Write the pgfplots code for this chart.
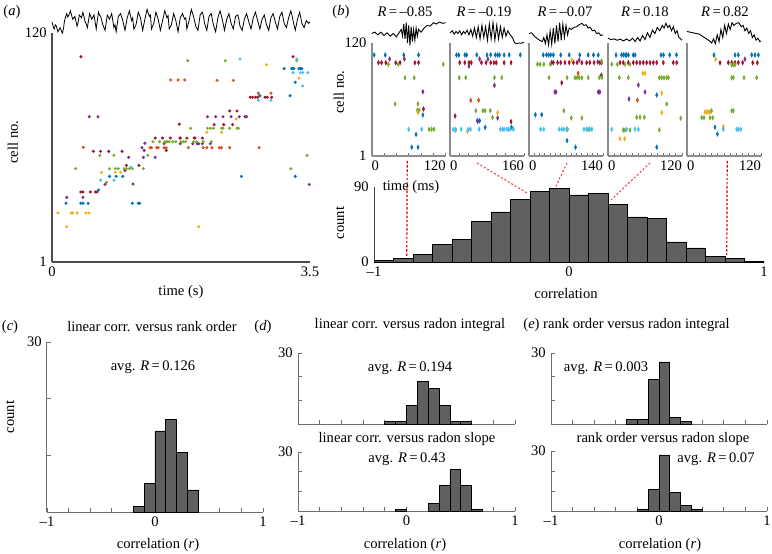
\documentclass[border=0pt]{standalone}
\usepackage{pgfplots}
\pgfplotsset{compat=1.18}
\usepackage{fontspec}
\setmainfont{Liberation Serif}

\definecolor{cB}{RGB}{0,114,189}
\definecolor{cO}{RGB}{217,83,25}
\definecolor{cY}{RGB}{237,177,32}
\definecolor{cP}{RGB}{126,47,142}
\definecolor{cG}{RGB}{119,172,48}
\definecolor{cL}{RGB}{77,190,238}
\definecolor{cR}{RGB}{162,20,47}
\definecolor{barg}{RGB}{96,96,96}
\definecolor{axg}{RGB}{110,110,110}
\definecolor{dotred}{RGB}{230,60,60}

% picture is laid out in reference pixels: 1 px = 0.5pt
\newcommand{\pxy}[2]{(#1*0.5pt,276.5pt-#2*0.5pt)}
\newcommand{\fs}{\fontsize{7.3}{8.8}\selectfont}
\newcommand{\lft}[1]{\makebox[0pt][l]{#1}}
\newcommand{\rgt}[1]{\makebox[0pt][r]{#1}}

\pgfplotsset{
  every axis/.append style={scale only axis, anchor=south west,
    font=\fs, /pgf/number format/assume math mode=true},
  dotsA/.style={only marks, mark=*, mark size=0.55pt, draw=none},
  dotsB/.style={only marks, mark=*, mark size=0.9pt,
    mark options={xscale=0.55, yscale=1.1, draw=none}},
  rast/.style={ymin=1, ymax=120, width=37pt, height=56.5pt,
    axis x line*=bottom, axis y line*=left, clip=false,
    axis line style={-, line width=1pt, axg!80},
    ytick=\empty, tick align=inside, major tick length=1.5pt,
    xtick style={axg, line width=0.4pt}},
  trace/.style={hide axis, ymin=-1, ymax=1, clip=false, width=37pt, height=13.5pt},
  hist/.style={xmin=-1, xmax=1, ymin=0, ymax=30,
    axis x line*=bottom, axis y line*=left,
    axis line style={-, axg, line width=0.5pt},
    tick align=inside, major tick length=2pt, tick style={axg, line width=0.4pt},
    xtick={-1,-0.8,-0.6,-0.4,-0.2,0,0.2,0.4,0.6,0.8,1},
    xticklabels={–1,,,,,0,,,,,1},
    ytick={0,10,20,30}, yticklabels={,,,30}},
  hbar/.style={ybar, bar width=0.1, bar shift=0pt, fill=barg, draw=black, line width=0.4pt},
}

\begin{document}
\fs
\begin{tikzpicture}
\useasboundingbox (0,0) rectangle (386pt,276.5pt);

% ---------------- (a) ----------------
\begin{axis}[at={(26pt,145.5pt)}, width=129pt, height=114.5pt,
  xmin=0, xmax=3.5, ymin=1, ymax=120,
  axis x line*=bottom, axis y line*=left,
  axis line style={-, line width=1pt, black!70},
  xtick={0,3.5}, xticklabels={0,3.5}, ytick={1,120}, major tick length=0pt,
  clip=false]
\addplot[dotsA, cB] coordinates {(0.78,45.5) (0.87,45.5) (0.96,45.5) (0.63,38.4)
  (0.19,31.5) (0.39,31.5) (0.42,31.5) (0.49,31.5) (1.09,31.5) (1.17,31.5) (1.19,31.5)
  (3.15,101.5) (3.25,101.5) (3.27,101.5) (3.28,101.5) (3.35,101.5) (3.37,101.5) (3.39,101.5)
  (3.30,94.4) (3.23,87.4) (2.82,87.4) (2.57,45.5) (3.30,45.5)};
\addplot[dotsA, cO] coordinates {(1.61,95.6) (1.71,95.6) (1.80,95.6) (2.24,95.4) (2.46,95.4)
  (0.425,60.6) (1.33,60.4) (1.35,60.4) (1.42,60.4) (1.44,60.4) (1.52,60.4) (1.55,60.4)
  (1.85,60.4) (2.05,60.4) (2.10,60.4) (2.17,60.4) (2.27,60.4) (2.30,60.4) (2.41,60.4)
  (2.81,60.4) (2.80,88.7) (2.97,88.7)};
\addplot[dotsA, cY] coordinates {(0.67,47.6) (0.86,47.6) (0.93,47.6) (0.08,26.5) (0.26,26.5)
  (0.28,26.5) (0.34,26.5) (0.46,26.5) (0.50,26.5) (0.20,19.3) (2.91,103.5) (3.35,96.5)
  (2.50,75.3) (2.10,68.4) (2.30,68.4) (1.99,19.3)};
\addplot[dotsA, cP] coordinates {(0.506,76.5) (0.624,76.5) (1.04,55.4) (0.99,48.5) (0.72,41.3)
  (1.10,41.5) (0.20,34.6) (0.42,34.6) (1.22,60.4) (1.26,62.7) (1.24,55.4) (1.40,55.4)
  (2.11,76.5) (2.22,76.5) (2.32,76.5) (2.43,76.5) (2.54,76.5) (2.62,76.5) (2.64,76.5)
  (1.74,62.5) (1.91,62.5) (1.97,62.5) (1.99,62.5) (2.04,62.5) (2.15,62.5) (1.52,62.5)
  (3.49,41.3)};
\addplot[dotsA, cG] coordinates {(0.65,56.4) (0.84,56.4) (0.32,49.5) (0.78,49.5) (0.86,49.5)
  (0.90,49.5) (0.98,49.5) (1.01,49.5) (1.05,49.5) (1.09,49.5) (1.24,49.5) (0.74,42.4)
  (1.37,63.5) (1.46,63.5) (1.53,63.5) (1.55,63.5) (1.57,63.5) (1.59,63.5) (1.64,63.5)
  (1.68,63.5) (1.75,63.5) (1.78,63.5) (1.81,63.5) (1.92,63.5) (1.96,63.5) (2.05,63.5)
  (2.16,63.5) (1.30,56.4) (1.84,105.6) (2.35,105.6) (3.32,105.6) (1.88,70.5) (2.11,70.5)
  (2.15,70.5) (2.19,70.5) (2.30,70.5) (2.32,70.5) (2.41,70.5) (2.51,70.5) (2.53,70.5)
  (3.46,56.4) (3.24,49.5)};
\addplot[dotsA, cL] coordinates {(1.07,50.3) (0.66,43.5) (0.84,43.5) (2.55,106.5) (3.32,106.5)
  (3.27,99.4) (3.37,99.4) (3.40,99.4) (3.47,99.4) (3.40,92.5) (2.80,85) (2.97,85)};
\addplot[dotsA, cR] coordinates {(0.393,107.7) (1.727,72.6) (1.605,65.4) (1.736,65.4)
  (0.56,58.5) (0.66,58.5) (0.77,58.5) (0.95,58.5) (1.01,51.2) (1.18,51.2) (0.39,37.4)
  (0.42,37.4) (0.52,37.4) (0.59,37.4) (0.61,37.4) (1.25,59) (1.55,59) (3.27,107.7)
  (2.69,86.6) (2.72,86.6) (2.76,86.6) (2.79,86.6) (2.89,86.6) (2.92,86.6) (2.98,86.6)
  (2.41,79.5) (2.51,79.5) (2.20,72.4) (2.33,72.4) (2.45,72.4) (1.74,65.4) (1.83,65.4)
  (1.93,65.4) (1.94,65.4) (2.04,65.4) (1.40,65.4) (1.50,65.4)};
\end{axis}

\begin{axis}[trace, at={(26pt,258.5pt)}, width=129pt, height=14pt, xmin=0, xmax=3.5]
\addplot[black, line width=0.4pt] coordinates {(0.00,0.0) (0.015,-0.3) (0.03,-0.5) (0.045,-0.2) (0.06,-0.3) (0.08,-0.7)
  (0.11,-0.4) (0.14,-0.8) (0.155,-0.5) (0.17,0.1) (0.20,0.6) (0.215,0.35) (0.23,0.5) (0.25,0.8) (0.28,0.2) (0.31,0.4)
  (0.34,-0.3) (0.355,0.0) (0.37,0.5) (0.40,0.3) (0.42,0.7) (0.45,0.0) (0.465,-0.15) (0.48,-0.4) (0.51,0.6) (0.54,0.2)
  (0.57,0.5) (0.60,-0.5) (0.63,0.7) (0.645,0.5) (0.66,0.4) (0.69,-0.2) (0.72,-0.6) (0.75,0.5) (0.78,0.2)
  (0.81,0.6) (0.84,-0.4) (0.855,-0.2) (0.87,-0.7) (0.90,0.4) (0.93,0.6) (0.96,0.1) (0.99,-0.6) (1.02,0.3)
  (1.05,0.8) (1.08,0.1) (1.095,0.3) (1.11,-0.5) (1.14,-0.2) (1.17,0.7) (1.20,0.3) (1.23,-0.6) (1.26,0.2)
  (1.29,0.9) (1.32,0.4) (1.335,0.5) (1.35,-0.5) (1.38,-0.1) (1.41,0.7) (1.44,0.2) (1.47,-0.6) (1.50,0.1)
  (1.53,0.8) (1.56,0.3) (1.575,0.45) (1.59,-0.5) (1.62,-0.2) (1.65,0.6) (1.68,0.1) (1.71,-0.7) (1.74,0.3)
  (1.77,0.6) (1.80,0.2) (1.815,0.3) (1.83,-0.5) (1.86,0.1) (1.89,0.9) (1.92,0.4) (1.95,-0.3) (1.98,-0.6)
  (2.01,0.5) (2.04,0.7) (2.055,0.4) (2.07,-0.1) (2.10,-0.6) (2.13,0.4) (2.16,0.6) (2.19,-0.2) (2.22,-0.7)
  (2.25,0.3) (2.28,0.8) (2.295,0.5) (2.31,0.2) (2.34,-0.6) (2.37,0.2) (2.40,0.6) (2.43,-0.1) (2.46,-0.5)
  (2.49,0.4) (2.52,0.5) (2.535,0.2) (2.55,-0.3) (2.58,-0.6) (2.61,0.2) (2.64,0.6) (2.67,0.0) (2.70,-0.5)
  (2.73,0.3) (2.76,0.7) (2.775,0.4) (2.79,0.1) (2.82,-0.5) (2.85,0.2) (2.88,0.5) (2.91,-0.2) (2.94,-0.6)
  (2.97,0.3) (3.00,0.6) (3.015,0.3) (3.03,0.0) (3.06,-0.5) (3.09,0.4) (3.12,0.7) (3.15,-0.1) (3.18,-0.4)
  (3.21,0.3) (3.24,0.8) (3.255,0.5) (3.27,0.1) (3.30,-0.6) (3.33,0.2) (3.36,0.7) (3.39,-0.1) (3.42,-0.4)
  (3.45,0.1) (3.48,-0.1) (3.50,0.0)};
\end{axis}

% ---------------- (b) rasters ----------------
\begin{axis}[rast, at={(185.85pt,198.5pt)}, xmin=0, xmax=120,
  xtick={0,20,...,120}, xticklabels={\lft{0},,,,,,\rgt{120}}, ytick={1,120}, ytick style={draw=none}]
\addplot[dotsB, cB] coordinates {(4,107.4) (22,107.4) (52,107.4) (76,107.4) (83,44.2) (72,23.8) (65,10.2) (75,10.2)};
\addplot[dotsB, cR] coordinates {(11,99.3) (16,99.3) (23,99.3) (39,99.3) (46,99.3) (70,99.3) (76,99.3) (84,50.5)};
\addplot[dotsB, cP] coordinates {(29,103.1) (53,103.1) (83,68.7)};
\addplot[dotsB, cG] coordinates {(27,97.6) (43,97.6) (116,97.6) (54,83.5) (69,83.5) (38,55.8) (75,55.8) (74,49.2) (77,49.2) (93,29.1) (97,29.1) (101,29.1)};
\addplot[dotsB, cY] coordinates {(75,46.8)};
\addplot[dotsB, cL] coordinates {(60,29.1) (81,29.1)};
\end{axis}

\begin{axis}[rast, at={(225pt,198.5pt)}, xmin=0, xmax=160,
  xtick={0,20,...,160}, xticklabels={\lft{0},,,,,,,,\rgt{160}}]
\addplot[dotsB, cB] coordinates {(14,107.4) (19,107.4) (32,107.4) (36,107.4) (58,107.4) (80,107.4) (88,107.4) (98,107.4) (103,107.4) (107,107.4) (117,107.4) (128,107.4) (152,107.4) (59,38.2) (64,38.2) (76,31.2) (133,31.2)};
\addplot[dotsB, cR] coordinates {(21,99.3) (32,99.3) (41,99.3) (46,99.3) (68,99.3) (78,99.3) (88,99.3) (95,99.3) (100,99.3) (117,99.3) (132,99.3) (11,43.1) (132,37.1)};
\addplot[dotsB, cP] coordinates {(64,103.1) (82,103.1) (41,95.8) (96,75.4) (103,41) (60,37.5)};
\addplot[dotsB, cG] coordinates {(20,83.5) (34,83.5) (96,83.5) (112,83.5) (56,48.7) (71,48.7) (76,48.7) (87,48.7) (92,41.7) (12,28)};
\addplot[dotsB, cO] coordinates {(45,59.7) (62,59.7)};
\addplot[dotsB, cY] coordinates {(103,46.8) (38,27)};
\addplot[dotsB, cL] coordinates {(7,29.1) (12,29.1) (24,29.1) (39,29.1) (44,29.1) (63,29.1) (109,29.1) (114,29.1) (117,29.1) (123,29.1) (126,29.1) (130,29.1) (137,29.1)};
\end{axis}

\begin{axis}[rast, at={(264.5pt,198.5pt)}, xmin=0, xmax=140,
  xtick={0,10,...,140}, xticklabels={\lft{0},,,,,,,,,,,,,,\rgt{140}}]
\addplot[dotsB, cB] coordinates {(27,107.4) (33,107.4) (37,107.4) (41,107.4) (46,107.4) (60,107.4) (76,107.4) (96,107.4) (112,107.4) (122,107.4) (131,107.4) (12,44.5) (24,44.5) (72,17.1) (88,10.2)};
\addplot[dotsB, cR] coordinates {(43,99.3) (46,99.3) (54,99.3) (60,99.3) (68,99.3) (76,99.3) (84,99.3) (91,99.3) (100,99.3) (109,99.3) (115,99.3) (123,99.3) (134,99.3) (137,99.3) (62,78.2) (137,86)};
\addplot[dotsB, cG] coordinates {(16,97.6) (21,97.6) (28,97.6) (40,97.6) (137,101) (38,83.5) (72,83.5) (87,83.5) (91,83.5) (95,83.5) (100,83.5) (112,83.5) (133,83.5) (138,83.5) (66,48.7) (80,41) (100,41) (73,29) (112,29)};
\addplot[dotsB, cY] coordinates {(81,102)};
\addplot[dotsB, cP] coordinates {(95,102) (130,100) (49,68.4) (51,68.4) (131,68.4) (134,68.4)};
\addplot[dotsB, cO] coordinates {(93,88.1)};
\addplot[dotsB, cL] coordinates {(22,29.1) (28,29.1) (57,29.1) (62,29.1) (66,29.1) (71,29.1) (104,29.1) (109,29.1) (115,29.1) (119,29.1)};
\end{axis}

\begin{axis}[rast, at={(304pt,198.5pt)}, xmin=0, xmax=120,
  xtick={0,10,...,120}, xticklabels={\lft{0},,,,,,,,,,,,\rgt{120}}]
\addplot[dotsB, cB] coordinates {(13,107.4) (22,107.4) (25,107.4) (28,107.4) (30,107.4) (33,107.4) (41,107.4) (44,107.4) (86,107.4) (90,107.4) (100,107.4) (111,107.4) (79,65.2) (79,10.2)};
\addplot[dotsB, cR] coordinates {(19.5,99.3) (24.8,99.3) (32.9,99.3) (41,99.3) (46.5,99.3) (51.9,99.3) (57.3,99.3) (62.7,99.3) (68.1,99.3) (73.5,99.3) (79,99.3) (89.7,99.3) (105.9,99.3) (111.4,99.3)};
\addplot[dotsB, cG] coordinates {(6,97.6) (15.1,97.6) (27.6,97.6) (35.7,97.6) (18.4,83.5) (32.9,83.5) (83.2,83.5) (87.1,83.5) (90.8,83.5) (95.2,83.5) (97.8,83.5) (95.2,55.8) (46.5,41.7) (51.9,41.7) (58.9,41.7) (24.8,28.4) (27.6,28.4) (35.7,28.4) (83.2,28.4) (118,40.7)};
\addplot[dotsB, cY] coordinates {(56.3,88.1) (60,88.1) (87,67.4) (87.3,46.8) (19.5,19.2) (27,19.2)};
\addplot[dotsB, cP] coordinates {(49.2,75.8) (60,68.4) (34,61)};
\addplot[dotsB, cO] coordinates {(47.6,59.7)};
\addplot[dotsB, cL] coordinates {(6,29.1) (30.3,29.1) (43.8,29.1) (49.2,29.1)};
\end{axis}

\begin{axis}[rast, at={(343.5pt,198.5pt)}, xmin=0, xmax=120,
  xtick={0,10,...,120}, xticklabels={\lft{0},,,,,,,,,,,,\rgt{120}}]
\addplot[dotsB, cB] coordinates {(43.8,107.4) (77.9,107.4) (83.2,107.4) (104.9,107.4) (110.3,107.4) (115.7,107.4) (45.4,31.2) (49.2,24.2)};
\addplot[dotsB, cY] coordinates {(46.5,103) (29.2,47.3) (32,47.3) (34.5,47.3) (37.3,47.3) (58.9,32)};
\addplot[dotsB, cR] coordinates {(53.5,99.3) (67,99.3) (72.5,99.3) (77.9,99.3) (83.2,99.3) (90.3,99.3) (106.6,99.3) (114.1,99.3)};
\addplot[dotsB, cP] coordinates {(94,103)};
\addplot[dotsB, cG] coordinates {(72.5,97) (75,97) (77.9,97) (72.5,83.5) (75.1,83.5) (92.4,83.5) (113,83.5) (39.7,48.7) (72.5,48.7) (75,48.7) (23.8,41.3) (27.6,41.3) (37.3,41.3) (41.7,41.3)};
\addplot[dotsB, cL] coordinates {(58.9,29.1) (80.6,29.1) (83.2,29.1) (87.1,29.1)};
\end{axis}

% ---------------- (b) traces ----------------
\begin{axis}[trace, at={(185.85pt,253pt)}, xmin=0, xmax=120]
\addplot[black, line width=0.45pt] coordinates {(0,0.0) (5,0.1) (10,-0.1) (15,0.1) (20,-0.15) (25,0.05) (30,-0.2) (35,0.0) (40,-0.25) (45,0.1) (48,0.3) (50,-0.2) (52,0.7) (54,-0.4) (56,0.8) (58,-0.7) (60,0.6) (62,-0.9) (64,0.5) (66,-0.6) (68,0.3) (70,-0.5) (72,0.4) (74,-0.2) (76,0.3) (80,0.1) (85,0.4) (90,0.6) (95,0.55) (100,0.8) (105,0.7) (110,0.85) (115,0.75) (120,0.8)};
\end{axis}
\begin{axis}[trace, at={(225pt,253pt)}, xmin=0, xmax=160]
\addplot[black, line width=0.45pt] coordinates {(0,0.05) (5,0.2) (9,-0.05) (13,0.15) (17,0.0) (21,0.2) (25,-0.1) (29,0.15) (33,0.0) (37,0.25) (41,-0.1) (45,0.3) (49,-0.2) (53,0.4) (57,-0.3) (61,0.5) (65,-0.4) (69,0.6) (73,-0.3) (77,0.5) (81,-0.5) (85,0.7) (89,-0.4) (93,0.8) (97,-0.5) (101,0.6) (105,-0.4) (109,0.5) (113,-0.3) (117,0.4) (121,-0.2) (125,0.2) (130,-0.1) (135,-0.3) (140,-0.7) (145,-0.75) (150,-0.7) (155,-0.72) (160,-0.65)};
\end{axis}
\begin{axis}[trace, at={(264.5pt,253pt)}, xmin=0, xmax=140]
\addplot[black, line width=0.45pt] coordinates {(0,0.0) (5,0.05) (10,-0.2) (15,-0.35) (20,-0.5) (25,-0.6) (28,-0.3) (31,-0.75) (34,-0.1) (37,-0.85) (40,0.2) (43,-0.8) (46,0.4) (49,-0.75) (52,0.6) (55,-0.6) (58,0.8) (61,-0.5) (64,0.7) (67,-0.3) (70,0.6) (73,-0.1) (76,0.4) (80,0.3) (85,0.45) (90,0.5) (95,0.65) (100,0.75) (104,0.6) (108,0.65) (112,0.4) (116,0.45) (120,0.2) (124,0.25) (128,0.0) (132,0.05) (136,-0.15) (140,-0.1)};
\end{axis}
\begin{axis}[trace, at={(304pt,253pt)}, xmin=0, xmax=120]
\addplot[black, line width=0.45pt] coordinates {(0,-0.35) (5,-0.45) (10,-0.4) (15,-0.5) (20,-0.42) (25,-0.55) (30,-0.4) (35,-0.55) (40,-0.35) (44,-0.6) (48,-0.3) (52,-0.55) (56,-0.15) (60,-0.45) (64,0.05) (68,-0.3) (72,0.25) (76,0.0) (80,0.45) (84,0.2) (88,0.6) (91,0.4) (94,0.75) (97,0.45) (100,0.6) (103,0.2) (106,0.5) (109,0.0) (112,0.2) (115,-0.3) (118,-0.4) (120,-0.5)};
\end{axis}
\begin{axis}[trace, at={(343.5pt,253pt)}, xmin=0, xmax=120]
\addplot[black, line width=0.45pt] coordinates {(0,0.15) (5,0.1) (10,0.05) (15,0.0) (20,-0.05) (25,-0.2) (30,-0.35) (35,-0.5) (40,-0.7) (43,-0.4) (46,-0.75) (49,-0.1) (52,-0.6) (55,0.3) (58,-0.3) (61,0.6) (64,0.0) (67,0.7) (70,0.3) (73,0.8) (76,0.6) (80,0.75) (84,0.8) (88,0.5) (91,0.6) (94,0.2) (97,0.4) (100,0.0) (103,0.2) (106,-0.3) (109,-0.1) (112,-0.5) (115,-0.35) (118,-0.6) (120,-0.55)};
\end{axis}

% ---------------- (b) histogram ----------------
\begin{axis}[at={(187pt,145.5pt)}, width=195pt, height=37.5pt,
  xmin=-1, xmax=1, ymin=0, ymax=90,
  axis x line*=bottom, axis y line*=left,
  axis line style={-, black!75, line width=0.5pt},
  xtick={-1,0,1}, xticklabels={–1,0,1}, ytick={0,90}, major tick length=0pt]
\addplot[hbar] coordinates {(-0.95,2) (-0.85,4) (-0.75,9.6) (-0.65,20.8) (-0.55,26.8)
  (-0.45,48.8) (-0.35,60) (-0.25,74.8) (-0.15,84.8) (-0.05,88) (0.05,80.4) (0.15,82)
  (0.25,69.2) (0.35,54) (0.45,52) (0.55,24) (0.65,16.8) (0.75,6.8) (0.85,4.8) (0.95,0.4)};
\end{axis}

% ---------------- (c) ----------------
\begin{axis}[hist, at={(23.5pt,20.5pt)}, width=108pt, height=85pt]
\addplot[hbar] coordinates {(-0.15,1) (-0.05,5) (0.05,14.3) (0.15,16.3) (0.25,10.5) (0.35,3.9)};
\end{axis}

% ---------------- (d) ----------------
\begin{axis}[hist, at={(149pt,64.5pt)}, width=108.5pt, height=35.5pt, xticklabels={}]
\addplot[hbar] coordinates {(-0.15,1) (-0.05,1) (0.05,8) (0.15,18) (0.25,15) (0.35,8) (0.45,1) (0.55,1)};
\end{axis}
\begin{axis}[hist, at={(149pt,21pt)}, width=108.5pt, height=29.5pt]
\addplot[hbar] coordinates {(-0.05,1) (0.25,4) (0.35,13) (0.45,21) (0.55,13) (0.65,1)};
\end{axis}

% ---------------- (e) ----------------
\begin{axis}[hist, at={(275.5pt,64.5pt)}, width=108pt, height=35.5pt, xticklabels={}]
\addplot[hbar] coordinates {(-0.25,2) (-0.15,2) (-0.05,19) (0.05,26.2) (0.15,2.8) (0.25,1)};
\end{axis}
\begin{axis}[hist, at={(275.5pt,21pt)}, width=108pt, height=30pt]
\addplot[hbar] coordinates {(-0.15,0.8) (-0.05,10.9) (0.05,28) (0.15,9.1) (0.25,3) (0.35,0.8)};
\end{axis}

% ---------------- connectors ----------------
\draw[red!85!black, dash pattern=on 1.2pt off 0.9pt, line width=0.6pt] \pxy{407.2}{161} -- \pxy{406.8}{257};
\draw[dotred, dash pattern=on 1pt off 1pt, line width=0.5pt] \pxy{477}{163} -- \pxy{527}{193};
\draw[dotred, dash pattern=on 1pt off 1pt, line width=0.5pt] \pxy{567}{163} -- \pxy{555}{188};
\draw[dotred, dash pattern=on 1pt off 1pt, line width=0.5pt] \pxy{650}{163} -- \pxy{611}{200};
\draw[red!85!black, dash pattern=on 1.2pt off 0.9pt, line width=0.6pt] \pxy{727.2}{161} -- \pxy{726.8}{255};

% ---------------- text ----------------
\node at \pxy{12}{12} {(\textit{a})};
\node[rotate=90] at \pxy{13}{142} {cell no.};
\node at \pxy{181}{292} {time (s)};
\node at \pxy{341}{12} {(\textit{b})};
\node at \pxy{405}{12} {\textit{R}\,=\,–0.85};
\node at \pxy{484}{12} {\textit{R}\,=\,–0.19};
\node at \pxy{565}{12} {\textit{R}\,=\,–0.07};
\node at \pxy{645}{12} {\textit{R}\,=\,0.18};
\node at \pxy{725}{12} {\textit{R}\,=\,0.82};
\node[rotate=90] at \pxy{339}{92} {cell no.};
\node at \pxy{411}{187} {time (ms)};
\node[rotate=90] at \pxy{340}{223} {count};
\node at \pxy{566}{294} {correlation};

\node at \pxy{10}{327} {(\textit{c})};
\node at \pxy{152}{327} {linear corr. versus rank order};
\node at \pxy{263}{327} {(\textit{d})};
\node[rotate=90] at \pxy{10}{417} {count};
\node at \pxy{153}{367} {avg. \textit{R}\,=\,0.126};
\node at \pxy{158}{545} {correlation (\textit{r})};

\node at \pxy{410}{325} {linear corr. versus radon integral};
\node at \pxy{410}{368} {avg. \textit{R}\,=\,0.194};
\node at \pxy{407}{439} {linear corr. versus radon slope};
\node at \pxy{407}{459} {avg. \textit{R}\,=\,0.43};
\node at \pxy{405}{545} {correlation (\textit{r})};

\node[anchor=west, inner sep=0pt] at \pxy{523}{325} {(\textit{e}) rank order versus radon integral};
\node at \pxy{606}{368} {avg. \textit{R}\,=\,0.003};
\node at \pxy{663}{439} {rank order versus radon slope};
\node at \pxy{716}{459} {avg. \textit{R}\,=\,0.07};
\node at \pxy{660}{545} {correlation (\textit{r})};
\end{tikzpicture}
\end{document}
